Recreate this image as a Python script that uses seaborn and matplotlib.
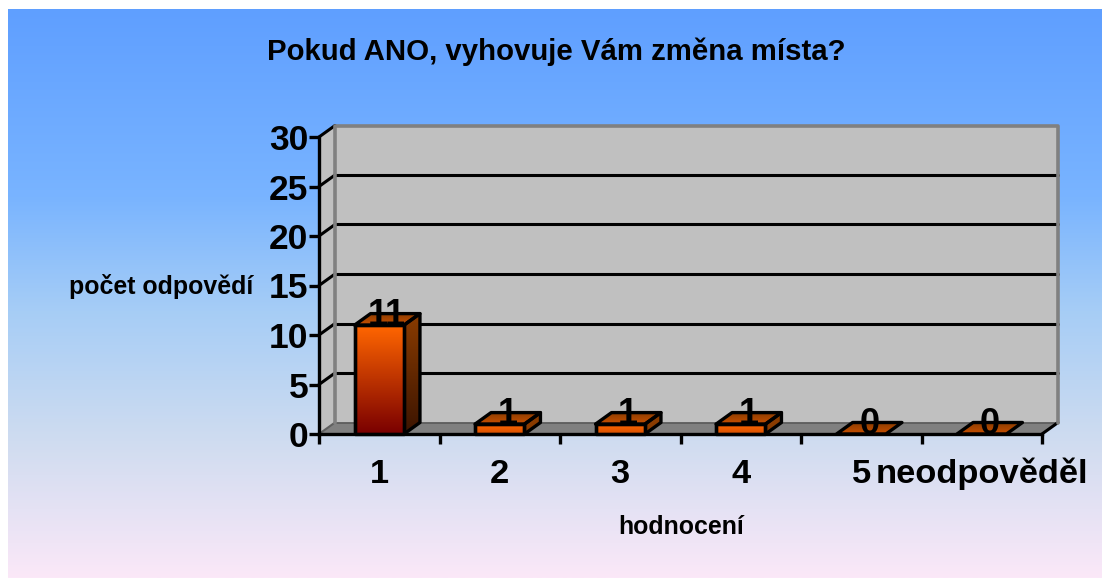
import numpy as np
import pandas as pd
import matplotlib
matplotlib.use("Agg")
import matplotlib.pyplot as plt
from matplotlib.colors import LinearSegmentedColormap
from matplotlib.patches import Polygon
import seaborn as sns

# values
categories = ['1', '2', '3', '4', '5', 'neodpověděl']
counts = [11, 1, 1, 1, 0, 0]
y_ticks = [0, 5, 10, 15, 20, 25, 30]

sns.set_style("ticks")
plt.rcParams['font.family'] = ['Liberation Sans', 'DejaVu Sans']
plt.rcParams['font.weight'] = 'bold'

W, H = 1102, 579
fig = plt.figure(figsize=(W / 100, H / 100), dpi=100, facecolor='white')


def px_rect(left, top, right, bottom):
    return [left / W, 1 - bottom / H, (right - left) / W, (bottom - top) / H]


# background gradient
bg = fig.add_axes(px_rect(8, 9, W, 578), zorder=0)
bg_cmap = LinearSegmentedColormap.from_list('bg', [
    (0.0, '#5f9fff'), (0.33, '#79b4ff'), (0.53, '#a6cdf6'),
    (0.76, '#cfdcf0'), (1.0, '#fbe8f8')])
bg.imshow(np.linspace(0, 1, 256).reshape(-1, 1), cmap=bg_cmap, aspect='auto')
bg.axis('off')

# front plane of the 3d box
ax = fig.add_axes(px_rect(319, 137, 1042, 434), zorder=1)
ax.patch.set_alpha(0)

df = pd.DataFrame({'hodnoceni': categories, 'pocet': counts})
sns.barplot(data=df, x='hodnoceni', y='pocet', ax=ax, width=0.41,
            color='#ff6600', saturation=1, zorder=5)
ax.set_xlim(-0.5, 5.5)
ax.set_ylim(0, 30)

# depth of the box in data units
dx = 16 / (723 / 6)
dy = 11.5 / (297 / 30)
x0, x1 = -0.5, 5.5


def shade(verts, c_from, c_to, horizontal=False, z=4):
    # gradient clipped to a polygon
    verts = np.array(verts)
    poly = Polygon(verts, closed=True, transform=ax.transData, facecolor='none',
                   edgecolor='black', lw=2.4, joinstyle='round', clip_on=False, zorder=z + 0.5)
    ax.add_patch(poly)
    ramp = np.linspace(0, 1, 64)
    ramp = ramp.reshape(1, -1) if horizontal else ramp.reshape(-1, 1)
    cm = LinearSegmentedColormap.from_list('f', [c_from, c_to])
    ext = [verts[:, 0].min(), verts[:, 0].max(), verts[:, 1].min(), verts[:, 1].max()]
    im = ax.imshow(ramp, cmap=cm, extent=ext, aspect='auto', origin='upper', zorder=z)
    im.set_clip_box(fig.bbox)
    im.set_clip_path(poly)


# walls and floor
ax.add_patch(Polygon([(x0, 0), (x0 + dx, dy), (x0 + dx, 30 + dy), (x0, 30)],
                     facecolor='#c0c0c0', edgecolor='none', clip_on=False, zorder=0.5))
ax.add_patch(Polygon([(x0 + dx, dy), (x1 + dx, dy), (x1 + dx, 30 + dy), (x0 + dx, 30 + dy)],
                     facecolor='#c0c0c0', edgecolor='none', clip_on=False, zorder=0.5))
ax.add_patch(Polygon([(x0, 0), (x1, 0), (x1 + dx, dy), (x0 + dx, dy)],
                     facecolor='#808080', edgecolor='none', clip_on=False, zorder=0.6))
ax.plot([x0 + dx, x1 + dx], [dy, dy], color='#5a5a5a', lw=1.2, clip_on=False, zorder=0.7)

# gridlines wrap round the left wall
for t in y_ticks[1:]:
    if t < 30:
        ax.plot([x0 + dx, x1 + dx], [t + dy, t + dy], color='black', lw=2.2,
                clip_on=False, zorder=0.8)
    ax.plot([x0, x0 + dx], [t, t + dy], color='black', lw=2.2, clip_on=False, zorder=0.8)
ax.plot([x0, x0 + dx], [0, dy], color='#606060', lw=1.5, clip_on=False, zorder=0.8)
ax.plot([x1, x1 + dx], [0, dy], color='black', lw=2.2, clip_on=False, zorder=0.8)
ax.plot([x0 + dx, x0 + dx, x1 + dx, x1 + dx], [dy, 30 + dy, 30 + dy, dy],
        color='#808080', lw=2.6, clip_on=False, zorder=0.9)

# 3d faces of the bars, the seaborn patches give the front
for bar, val in zip(list(ax.patches)[:len(counts)], counts):
    l, r = bar.get_x(), bar.get_x() + bar.get_width()
    bar.set_facecolor('none')
    bar.set_edgecolor('black')
    bar.set_linewidth(2.4)
    bar.set_zorder(5.5)
    if val > 0:
        end = '#7a0000' if val > 5 else '#d65000'
        shade([(l, 0), (r, 0), (r, val), (l, val)], '#ff6600', end, z=5)
        side_end = '#3c1400' if val > 5 else '#8a3c00'
        shade([(r, 0), (r + dx, dy), (r + dx, val + dy), (r, val)], '#8a3c00', side_end, z=3)
    shade([(l, val), (r, val), (r + dx, val + dy), (l + dx, val + dy)], '#8a3c00', '#c85000', z=3)
    ax.text((l + r) / 2 + dx / 2, val, str(val), ha='center', va='baseline',
            fontsize=26, color='black', zorder=8, clip_on=False)

ax.set_xlim(x0, x1)
ax.set_ylim(0, 30)

# axes, ticks
sns.despine(ax=ax)
for s in ['left', 'bottom']:
    ax.spines[s].set_linewidth(2.4)
    ax.spines[s].set_color('black')
    ax.spines[s].set_zorder(2)
ax.set_yticks(y_ticks)
ax.tick_params(axis='y', length=7, width=2.4, pad=0.5, labelsize=25.5, labelcolor='black', color='black')
ax.set_xticks(range(len(categories)))
ax.set_xticklabels(categories)
ax.tick_params(axis='x', which='major', length=0, pad=35, labelsize=24.8, labelcolor='black')
for lbl in ax.get_xticklabels():
    lbl.set_verticalalignment('baseline')
ax.set_xticks(np.arange(x0, x1 + 1), minor=True)
ax.tick_params(axis='x', which='minor', length=7, width=2.4, color='black')
ax.set_xlabel('')
ax.set_ylabel('')

fig.text(556 / W, 1 - 52 / H, 'Pokud ANO, vyhovuje Vám změna místa?', ha='center', va='center',
         fontsize=21.2, fontweight='bold', color='black')
fig.text(161.5 / W, 1 - 286 / H, 'počet odpovědí', ha='center', va='center',
         fontsize=17.9, fontweight='bold', color='black')
fig.text(681 / W, 1 - 527 / H, 'hodnocení', ha='center', va='center',
         fontsize=17.9, fontweight='bold', color='black')

fig.savefig('out.png', dpi=100)
